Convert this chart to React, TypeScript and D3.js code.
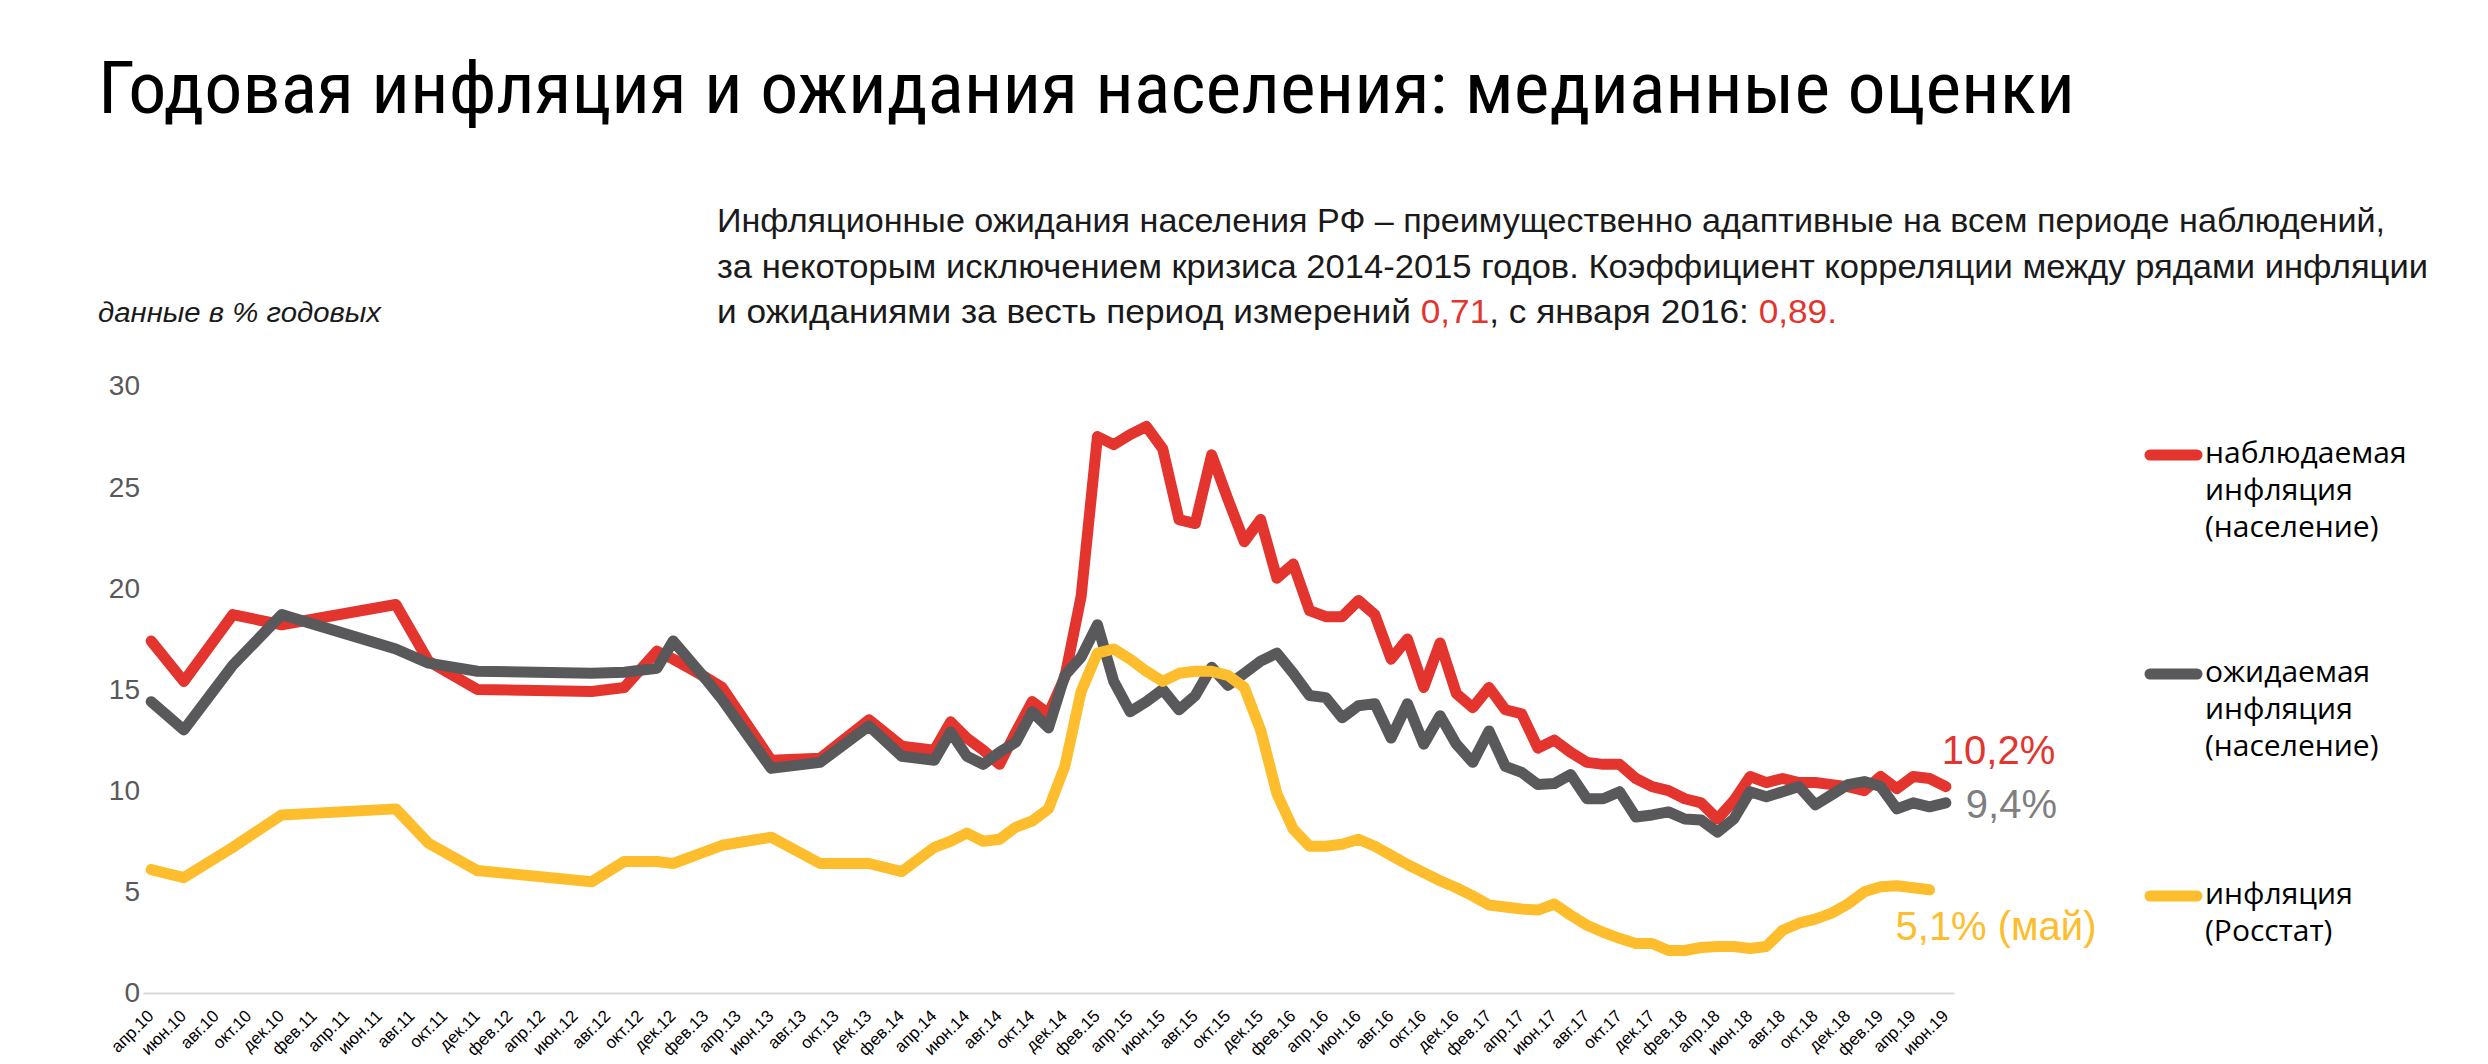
import React, { useEffect, useRef } from 'react';
import * as d3 from 'd3';

// survey months: sparse until spring 2014, monthly after that
const pointMonths = [
  '2010-04', '2010-06', '2010-09', '2010-12', '2011-07', '2011-09', '2011-12',
  '2012-07', '2012-09', '2012-11', '2012-12', '2013-02', '2013-03', '2013-06',
  '2013-09', '2013-12', '2014-02', '2014-04',
  '2014-05', '2014-06', '2014-07', '2014-08', '2014-09', '2014-10', '2014-11', '2014-12',
  '2015-01', '2015-02', '2015-03', '2015-04', '2015-05', '2015-06', '2015-07', '2015-08', '2015-09', '2015-10', '2015-11', '2015-12',
  '2016-01', '2016-02', '2016-03', '2016-04', '2016-05', '2016-06', '2016-07', '2016-08', '2016-09', '2016-10', '2016-11', '2016-12',
  '2017-01', '2017-02', '2017-03', '2017-04', '2017-05', '2017-06', '2017-07', '2017-08', '2017-09', '2017-10', '2017-11', '2017-12',
  '2018-01', '2018-02', '2018-03', '2018-04', '2018-05', '2018-06', '2018-07', '2018-08', '2018-09', '2018-10', '2018-11', '2018-12',
  '2019-01', '2019-02', '2019-03', '2019-04', '2019-05', '2019-06'
];

// наблюдаемая инфляция (население)
const observed = [
  17.4, 15.4, 18.7, 18.2, 19.2, 16.4, 15.0, 14.9, 15.1, 16.9, 16.5, 15.6, 15.1, 11.5, 11.6, 13.5, 12.2, 12.0,
  13.4, 12.6, 12.0, 11.3, 12.9, 14.4, 13.8, 15.6,
  19.6, 27.5, 27.1, 27.6, 28.0, 26.9, 23.4, 23.2, 26.6, 24.4, 22.3, 23.4,
  20.5, 21.2, 18.9, 18.6, 18.6, 19.4, 18.7, 16.5, 17.5, 15.1, 17.3, 14.8,
  14.1, 15.1, 14.0, 13.8, 12.1, 12.5, 11.9, 11.4, 11.3, 11.3, 10.6, 10.2,
  10.0, 9.6, 9.4, 8.6, 9.5, 10.7, 10.4, 10.6, 10.4, 10.4, 10.3, 10.2,
  10.0, 10.7, 10.1, 10.7, 10.6, 10.2
];

// ожидаемая инфляция (население)
const expected = [
  14.4, 13.0, 16.2, 18.7, 17.0, 16.3, 15.9, 15.8, 15.85, 16.05, 17.4, 15.5, 14.5, 11.1, 11.4, 13.2, 11.7, 11.5,
  12.9, 11.7, 11.3, 11.9, 12.4, 13.9, 13.1, 15.7,
  16.6, 18.2, 15.4, 13.9, 14.4, 15.0, 14.0, 14.7, 16.1, 15.2, 15.8, 16.4,
  16.8, 15.8, 14.7, 14.6, 13.6, 14.2, 14.3, 12.6, 14.3, 12.3, 13.7, 12.3,
  11.4, 12.95, 11.2, 10.9, 10.3, 10.35, 10.8, 9.6, 9.6, 9.95, 8.7, 8.8,
  8.95, 8.6, 8.55, 7.95, 8.6, 9.95, 9.7, 9.95, 10.2, 9.3, 9.8, 10.3,
  10.45, 10.2, 9.1, 9.4, 9.2, 9.4
];

// инфляция (Росстат), June 2019 not yet published
const rosstat = [
  6.1, 5.7, 7.2, 8.8, 9.1, 7.4, 6.05, 5.5, 6.5, 6.5, 6.4, 7.0, 7.3, 7.7, 6.4, 6.4, 6.0, 7.2,
  7.5, 7.9, 7.5, 7.6, 8.2, 8.5, 9.1, 11.2,
  14.9, 16.8, 17.0, 16.5, 15.9, 15.4, 15.8, 15.9, 15.9, 15.7, 15.1, 13.0,
  9.85, 8.1, 7.25, 7.25, 7.35, 7.6, 7.25, 6.8, 6.35, 5.95, 5.55, 5.2,
  4.8, 4.35, 4.25, 4.15, 4.1, 4.4, 3.85, 3.35, 3.0, 2.7, 2.45, 2.45,
  2.1, 2.1, 2.25, 2.3, 2.3, 2.2, 2.3, 3.1, 3.45, 3.65, 3.95, 4.4,
  5.0, 5.25, 5.3, 5.2, 5.1, null
];

const tickLabels = [
  'апр.10', 'июн.10', 'авг.10', 'окт.10', 'дек.10', 'фев.11', 'апр.11', 'июн.11', 'авг.11', 'окт.11', 'дек.11',
  'фев.12', 'апр.12', 'июн.12', 'авг.12', 'окт.12', 'дек.12', 'фев.13', 'апр.13', 'июн.13', 'авг.13', 'окт.13', 'дек.13',
  'фев.14', 'апр.14', 'июн.14', 'авг.14', 'окт.14', 'дек.14', 'фев.15', 'апр.15', 'июн.15', 'авг.15', 'окт.15', 'дек.15',
  'фев.16', 'апр.16', 'июн.16', 'авг.16', 'окт.16', 'дек.16', 'фев.17', 'апр.17', 'июн.17', 'авг.17', 'окт.17', 'дек.17',
  'фев.18', 'апр.18', 'июн.18', 'авг.18', 'окт.18', 'дек.18', 'фев.19', 'апр.19', 'июн.19'
];

const yTicks = [0, 5, 10, 15, 20, 25, 30];

const seriesNames = [
  ['наблюдаемая', 'инфляция', '(население)'],
  ['ожидаемая', 'инфляция', '(население)'],
  ['инфляция', '(Росстат)']
];

const title = 'Годовая инфляция и ожидания населения: медианные оценки';
const unitNote = 'данные в % годовых';

const RED = '#E3342E';
const GRAY = '#59595B';
const YELLOW = '#FDBD2D';

const App: React.FC = () => {
  const svgRef = useRef<SVGSVGElement>(null);

  useEffect(() => {
    if (!svgRef.current) return;
    document.body.style.margin = '0';

    const svg = d3.select(svgRef.current);
    svg.selectAll('*').remove();

    const width = 2488;
    const sans = "'Liberation Sans', Arial, sans-serif";

    const parse = d3.timeParse('%Y-%m');
    const fmt = d3.timeFormat('%Y-%m');
    const first = parse(pointMonths[0])!;
    const last = parse(pointMonths[pointMonths.length - 1])!;
    const allMonths = d3.timeMonth.range(first, d3.timeMonth.offset(last, 1)).map(fmt);

    const x = d3.scalePoint<string>()
      .domain(allMonths)
      .range([143, 1954])
      .padding(0.5);

    const y = d3.scaleLinear()
      .domain([0, 30])
      .range([993, 386]);

    svg.append('rect').attr('width', width).attr('height', 1064).attr('fill', '#fff');

    // title
    svg.append('text')
      .attr('x', 98)
      .attr('y', 113)
      .attr('font-family', "'Liberation Sans Narrow', 'Roboto Condensed', Roboto, sans-serif")
      .attr('font-size', 72)
      .attr('textLength', 1977)
      .attr('lengthAdjust', 'spacingAndGlyphs')
      .attr('fill', '#000')
      .text(title);

    // comment block
    const note = svg.append('g')
      .attr('font-family', sans)
      .attr('font-size', 33)
      .attr('fill', '#1a1a1a');
    note.append('text')
      .attr('x', 717).attr('y', 232)
      .attr('textLength', 1668).attr('lengthAdjust', 'spacingAndGlyphs')
      .text('Инфляционные ожидания населения РФ – преимущественно адаптивные на всем периоде наблюдений,');
    note.append('text')
      .attr('x', 717).attr('y', 278)
      .attr('textLength', 1711).attr('lengthAdjust', 'spacingAndGlyphs')
      .text('за некоторым исключением кризиса 2014-2015 годов. Коэффициент корреляции между рядами инфляции');
    const l3 = note.append('text')
      .attr('x', 717).attr('y', 323)
      .attr('textLength', 1120).attr('lengthAdjust', 'spacingAndGlyphs');
    l3.append('tspan').text('и ожиданиями за весть период измерений ');
    l3.append('tspan').attr('fill', RED).text('0,71');
    l3.append('tspan').text(', с января 2016: ');
    l3.append('tspan').attr('fill', RED).text('0,89.');

    svg.append('text')
      .attr('x', 98)
      .attr('y', 322)
      .attr('font-family', sans)
      .attr('font-style', 'italic')
      .attr('font-size', 27)
      .attr('textLength', 283)
      .attr('lengthAdjust', 'spacingAndGlyphs')
      .attr('fill', '#1a1a1a')
      .text(unitNote);

    // axes
    const xAxis = d3.axisBottom(x)
      .tickValues(allMonths.filter((_, i) => i % 2 === 0))
      .tickSize(0)
      .tickSizeOuter(0)
      .tickFormat((_, i) => tickLabels[i]);

    const gx = svg.append('g')
      .attr('transform', 'translate(0,993)')
      .call(xAxis);
    gx.select('.domain').attr('stroke', '#D9D9D9').attr('stroke-width', 2);
    gx.selectAll('text')
      .attr('x', 0)
      .attr('y', 0)
      .attr('dy', 0)
      .attr('transform', 'translate(3,24) rotate(-45)')
      .attr('text-anchor', 'end')
      .attr('font-family', sans)
      .attr('font-size', 17)
      .attr('fill', '#000');

    const gy = svg.append('g')
      .attr('transform', 'translate(143,0)')
      .call(d3.axisLeft(y).tickValues(yTicks).tickSize(0).tickPadding(3));
    gy.select('.domain').remove();
    gy.selectAll('text')
      .attr('font-family', sans)
      .attr('font-size', 28)
      .attr('fill', '#595959');

    // lines
    type Pt = { m: string; v: number | null };
    const toPts = (vals: (number | null)[]): Pt[] => pointMonths.map((m, i) => ({ m, v: vals[i] }));
    const line = d3.line<Pt>()
      .defined(d => d.v != null)
      .x(d => x(d.m)!)
      .y(d => y(d.v as number));

    const series = [
      { pts: toPts(observed), color: RED },
      { pts: toPts(expected), color: GRAY },
      { pts: toPts(rosstat), color: YELLOW }
    ];

    series.forEach(s => {
      svg.append('path')
        .datum(s.pts)
        .attr('fill', 'none')
        .attr('stroke', s.color)
        .attr('stroke-width', 11)
        .attr('stroke-linejoin', 'round')
        .attr('stroke-linecap', 'round')
        .attr('d', line);
    });

    // end labels
    const pct = (v: number) => d3.format('.1f')(v).replace('.', ',') + '%';
    const lastObs = series[0].pts[series[0].pts.length - 1];
    const lastExp = series[1].pts[series[1].pts.length - 1];
    const rs = series[2].pts.filter(d => d.v != null);
    const lastRs = rs[rs.length - 1];

    const endLabels = [
      { text: pct(lastObs.v!), x: x(lastObs.m)! - 4, y: y(lastObs.v!) - 23, color: RED },
      { text: pct(lastExp.v!), x: x(lastExp.m)! + 20, y: y(lastExp.v!) + 15, color: '#7F7F7F' },
      { text: pct(lastRs.v!) + ' (май)', x: x(lastRs.m)! - 34, y: y(lastRs.v!) + 50, color: YELLOW }
    ];
    svg.selectAll('.end-label')
      .data(endLabels)
      .enter().append('text')
      .attr('class', 'end-label')
      .attr('x', d => d.x)
      .attr('y', d => d.y)
      .attr('font-family', sans)
      .attr('font-size', 40)
      .attr('fill', d => d.color)
      .text(d => d.text);

    // legend
    const legendY = [455, 674, 896];
    const colors = [RED, GRAY, YELLOW];
    seriesNames.forEach((lines, i) => {
      svg.append('line')
        .attr('x1', 2150).attr('x2', 2197)
        .attr('y1', legendY[i]).attr('y2', legendY[i])
        .attr('stroke', colors[i])
        .attr('stroke-width', 11)
        .attr('stroke-linecap', 'round');
      const t = svg.append('text')
        .attr('font-family', "'Open Sans', 'DejaVu Sans', sans-serif")
        .attr('font-size', 30)
        .attr('fill', '#000');
      lines.forEach((s, j) => {
        t.append('tspan')
          .attr('x', 2205)
          .attr('y', legendY[i] + 8 + j * 37)
          .text(s);
      });
    });
  }, []);

  return (
    <div>
      <svg ref={svgRef} width="2488" height="1064" style={{ display: 'block' }} />
    </div>
  );
};

export default App;
